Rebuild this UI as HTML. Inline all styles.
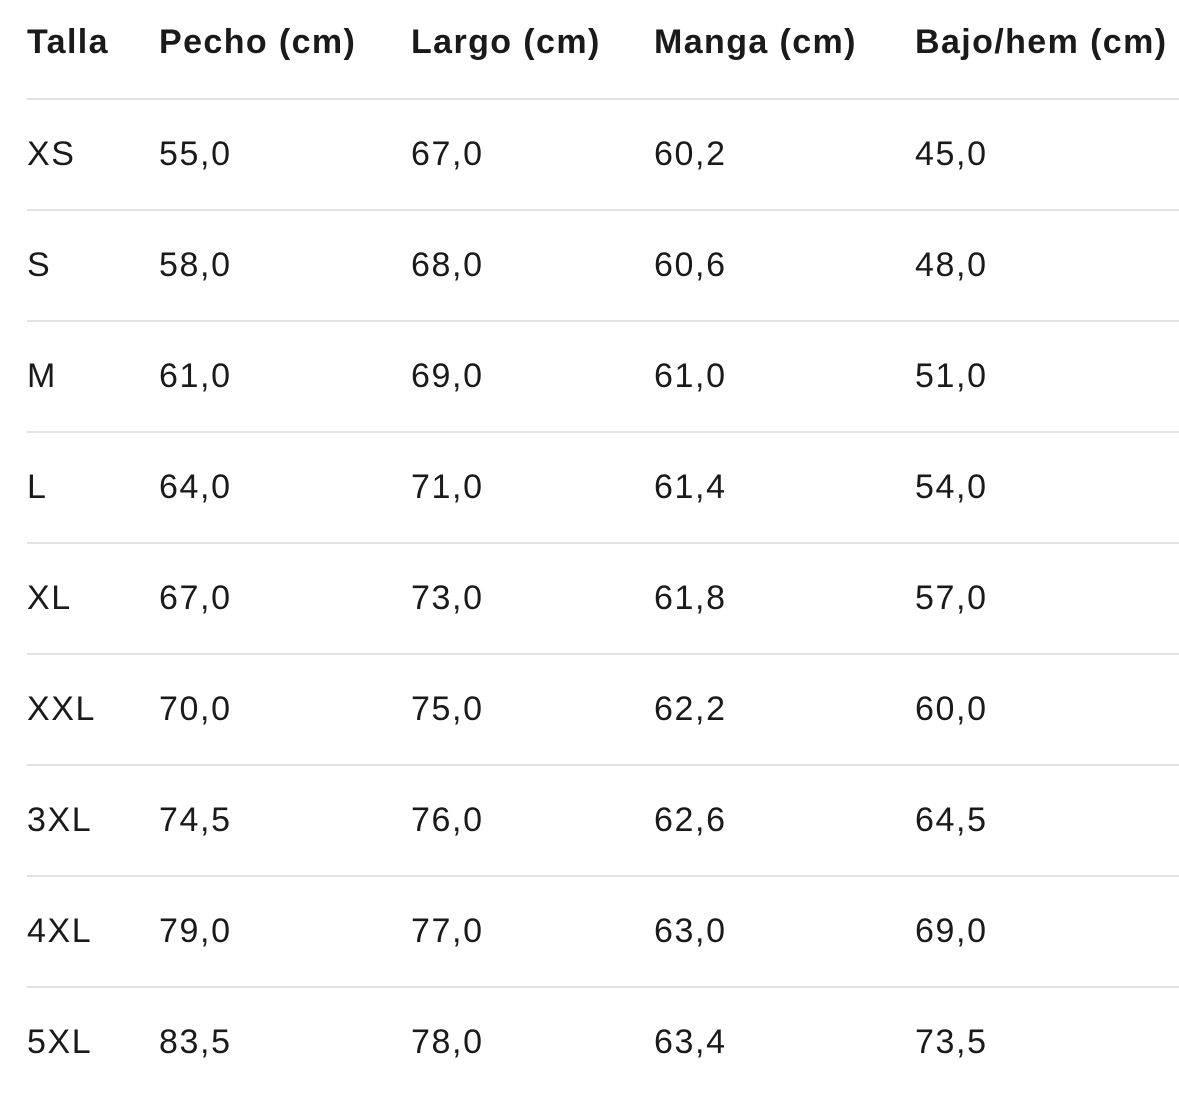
<!DOCTYPE html>
<html><head><meta charset="utf-8"><style>
html,body{margin:0;padding:0;background:#fff;width:1179px;height:1093px;overflow:hidden}
body{font-family:"Liberation Sans",Arial,sans-serif;color:#1a1a1a;position:relative}
.t{position:absolute;font-size:34px;line-height:1;white-space:nowrap;letter-spacing:1.6px}
.h{font-weight:bold;letter-spacing:1.4px}
.l{position:absolute;left:27px;width:1152px;height:2px;background:#e2e2e2}
</style></head><body>
<div class="t h" style="left:27px;top:25px">Talla</div>
<div class="t h" style="left:159px;top:25px">Pecho (cm)</div>
<div class="t h" style="left:411px;top:25px">Largo (cm)</div>
<div class="t h" style="left:654px;top:25px">Manga (cm)</div>
<div class="t h" style="left:915px;top:25px">Bajo/hem (cm)</div>
<div class="l" style="top:98px"></div>
<div id="rows"></div>
<script>
var d=[["XS","55,0","67,0","60,2","45,0"],["S","58,0","68,0","60,6","48,0"],["M","61,0","69,0","61,0","51,0"],["L","64,0","71,0","61,4","54,0"],["XL","67,0","73,0","61,8","57,0"],["XXL","70,0","75,0","62,2","60,0"],["3XL","74,5","76,0","62,6","64,5"],["4XL","79,0","77,0","63,0","69,0"],["5XL","83,5","78,0","63,4","73,5"]];
var xs=[27,159,411,654,915],h="";
d.forEach(function(r,i){var y=137+i*111;r.forEach(function(c,j){h+='<div class="t" style="left:'+xs[j]+'px;top:'+y+'px">'+c+'</div>';});if(i<8)h+='<div class="l" style="top:'+(209+i*111)+'px"></div>';});
document.getElementById("rows").innerHTML=h;
</script>
</body></html>
